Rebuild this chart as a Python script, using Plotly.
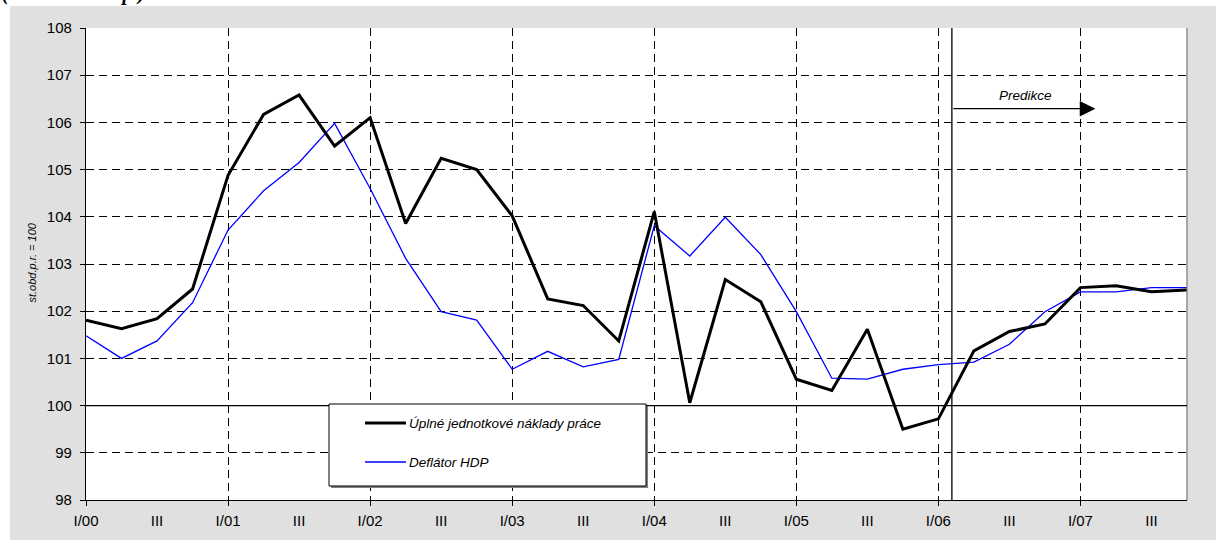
import plotly.graph_objects as go

# ---------------- data ----------------
quarters = ["I/00", "II/00", "III/00", "IV/00",
            "I/01", "II/01", "III/01", "IV/01",
            "I/02", "II/02", "III/02", "IV/02",
            "I/03", "II/03", "III/03", "IV/03",
            "I/04", "II/04", "III/04", "IV/04",
            "I/05", "II/05", "III/05", "IV/05",
            "I/06", "II/06", "III/06", "IV/06",
            "I/07", "II/07", "III/07", "IV/07"]

ulc = [101.81, 101.63, 101.84, 102.47,
       104.88, 106.17, 106.58, 105.50,
       106.10, 103.86, 105.24, 105.00,
       104.02, 102.26, 102.12, 101.37,
       104.11, 100.06, 102.67, 102.20,
       100.56, 100.32, 101.62, 99.50,
       99.72, 101.16, 101.57, 101.73,
       102.50, 102.54, 102.41, 102.45]

deflator = [101.48, 101.00, 101.37, 102.18,
            103.72, 104.55, 105.15, 105.98,
            104.60, 103.12, 101.99, 101.81,
            100.77, 101.15, 100.82, 100.98,
            103.81, 103.17, 103.99, 103.20,
            101.99, 100.58, 100.56, 100.77,
            100.87, 100.92, 101.30, 101.99,
            102.41, 102.41, 102.50, 102.50]

series_names = ["Úplné jednotkové náklady práce", "Deflátor HDP"]
label_idx = [i for i in range(len(quarters)) if i % 2 == 0]
label_text = [quarters[i] if i % 4 == 0 else "III" for i in label_idx]
y_title = "st.obd.p.r. = 100"
header = "(domácí koncept)"
forecast_label = "Predikce"
forecast_start = 24.38   # position between I/06 and II/06
forecast_arrow_end = 28.42
forecast_y = 106.29

# ---------------- layout geometry ----------------
W, H = 1216, 540
ML, MR, MT, MB = 86, 29, 28, 40
PW, PH = W - ML - MR, H - MT - MB


def px(x):
    return (x - ML) / PW


def py(y):
    return (H - MB - y) / PH


FONT = "Arial, Liberation Sans, sans-serif"
xs = list(range(len(quarters)))

fig = go.Figure()
fig.add_trace(go.Scatter(x=xs, y=deflator, mode="lines", name=series_names[1],
                         line=dict(color="#0000ff", width=1.3), showlegend=False,
                         hovertext=quarters))
fig.add_trace(go.Scatter(x=xs, y=ulc, mode="lines", name=series_names[0],
                         line=dict(color="#000000", width=3), showlegend=False,
                         hovertext=quarters))

shapes = []
# gray outer panel
shapes.append(dict(type="rect", xref="paper", yref="paper", layer="below",
                   x0=px(10), x1=px(W + 5), y0=py(H + 5), y1=py(6),
                   fillcolor="#e0e0e0", line=dict(width=0)))
# white plot area
shapes.append(dict(type="rect", xref="paper", yref="paper", layer="below",
                   x0=0, x1=1, y0=0, y1=1, fillcolor="#ffffff", line=dict(width=0)))
# right border
shapes.append(dict(type="line", xref="paper", yref="paper", x0=1, x1=1, y0=0, y1=1,
                   line=dict(color="#808080", width=1.3)))
# 100 line
shapes.append(dict(type="line", xref="x", yref="y", x0=0, x1=len(quarters) - 1, y0=100, y1=100,
                   line=dict(color="#000000", width=1.3)))
# forecast divider
shapes.append(dict(type="line", xref="x", yref="paper", x0=forecast_start, x1=forecast_start,
                   y0=0, y1=1, line=dict(color="#000000", width=1.3)))
# legend box (shadow + box)
lx0, lx1, ly0, ly1 = 329, 646, 404, 486
shapes.append(dict(type="rect", xref="paper", yref="paper",
                   x0=px(lx0 + 2), x1=px(lx1 + 2), y0=py(ly1 + 2), y1=py(ly0 + 2),
                   fillcolor="#808080", line=dict(width=0)))
shapes.append(dict(type="rect", xref="paper", yref="paper",
                   x0=px(lx0), x1=px(lx1), y0=py(ly1), y1=py(ly0),
                   fillcolor="#ffffff", line=dict(color="#000000", width=1)))
shapes.append(dict(type="line", xref="paper", yref="paper",
                   x0=px(365), x1=px(406), y0=py(423), y1=py(423),
                   line=dict(color="#000000", width=3)))
shapes.append(dict(type="line", xref="paper", yref="paper",
                   x0=px(365), x1=px(406), y0=py(462), y1=py(462),
                   line=dict(color="#0000ff", width=1.3)))

annotations = []
annotations.append(dict(xref="paper", yref="paper", x=px(407), y=py(423),
                        xanchor="left", yanchor="middle", showarrow=False,
                        text=series_names[0],
                        font=dict(family=FONT, size=13.5, color="#000000", style="italic")))
annotations.append(dict(xref="paper", yref="paper", x=px(407), y=py(462),
                        xanchor="left", yanchor="middle", showarrow=False,
                        text=series_names[1],
                        font=dict(family=FONT, size=13.5, color="#000000", style="italic")))
# y title
annotations.append(dict(xref="paper", yref="paper", x=px(31.5), y=py(263),
                        xanchor="center", yanchor="middle", showarrow=False,
                        textangle=-90, text=y_title,
                        font=dict(family=FONT, size=11, color="#000000", style="italic")))
# header (cut at the top, as in the source page)
annotations.append(dict(xref="paper", yref="paper", x=px(0), y=py(-6),
                        xanchor="left", yanchor="middle", showarrow=False,
                        text="<b>" + header + "</b>",
                        font=dict(family="Liberation Serif, Times New Roman, serif", size=20,
                                  color="#000000", style="italic")))
# forecast arrow
annotations.append(dict(xref="x", yref="y", axref="x", ayref="y",
                        x=forecast_arrow_end, y=forecast_y, ax=forecast_start, ay=forecast_y,
                        showarrow=True, arrowhead=2, arrowsize=2.4, arrowwidth=1.3,
                        arrowcolor="#000000", standoff=0, startstandoff=0, text=""))
annotations.append(dict(xref="x", yref="y", x=26.44, y=106.56, showarrow=False,
                        xanchor="center", yanchor="middle", text=forecast_label,
                        font=dict(family=FONT, size=13.5, color="#000000", style="italic")))

fig.update_layout(
    width=W, height=H,
    margin=dict(l=ML, r=MR, t=MT, b=MB, pad=0),
    paper_bgcolor="#ffffff", plot_bgcolor="#ffffff",
    showlegend=False,
    shapes=shapes, annotations=annotations,
    xaxis=dict(range=[0, len(quarters) - 1], tickmode="array",
               tickvals=label_idx, ticktext=label_text,
               ticks="", showgrid=False, zeroline=False,
               showline=True, linecolor="#000000", linewidth=1.3,
               tickfont=dict(family=FONT, size=15, color="#000000"),
               ticklabelstandoff=7,
               minor=dict(tickmode="linear", tick0=0, dtick=4, ticks="outside",
                          ticklen=5, tickcolor="#000000", tickwidth=1,
                          showgrid=True, gridcolor="#000000", gridwidth=1,
                          griddash="8px,5px")),
    yaxis=dict(range=[98, 108], tickmode="linear", tick0=98, dtick=1,
               ticks="outside", ticklen=5, tickcolor="#000000", tickwidth=1,
               showgrid=True, gridcolor="#000000", gridwidth=1, griddash="8px,5px",
               zeroline=False, showline=True, linecolor="#000000", linewidth=1.3,
               tickfont=dict(family=FONT, size=15, color="#000000"),
               ticklabelstandoff=5),
)

fig.write_html("out.html", config={"displayModeBar": False},
               post_script="document.body.style.margin='0';document.body.style.padding='0';")
